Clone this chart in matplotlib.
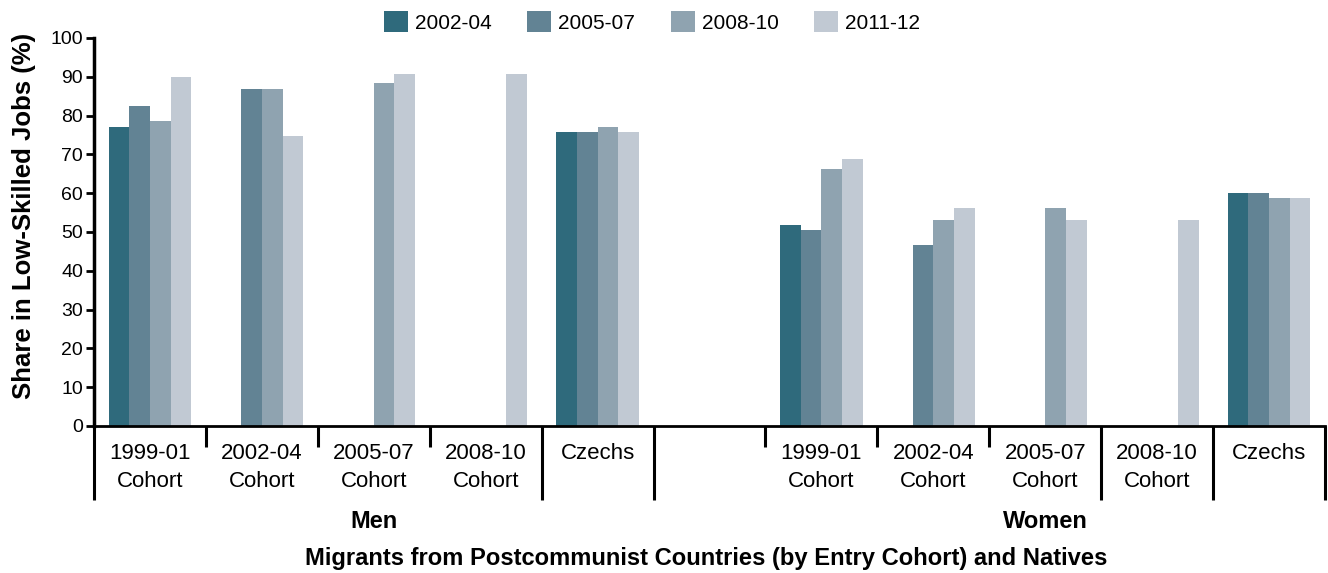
import numpy as np
import matplotlib
matplotlib.use("Agg")
import matplotlib.pyplot as plt
from matplotlib.patches import Patch

plt.rcParams['font.family'] = ['Liberation Sans', 'DejaVu Sans']

# ---- data ----
series = ["2002-04", "2005-07", "2008-10", "2011-12"]
colors = ["#2F6A7C", "#628394", "#8FA3B0", "#C1C9D3"]
categories = ["1999-01\nCohort", "2002-04\nCohort", "2005-07\nCohort", "2008-10\nCohort", "Czechs"]
groups = ["Men", "Women"]
nan = np.nan

men_2002_04 = [77.1, nan, nan, nan, 75.8]
men_2005_07 = [82.5, 86.9, nan, nan, 75.8]
men_2008_10 = [78.7, 86.9, 88.5, nan, 77.1]
men_2011_12 = [90.0, 74.8, 90.8, 90.8, 75.8]

women_2002_04 = [51.8, nan, nan, nan, 60.1]
women_2005_07 = [50.6, 46.7, nan, nan, 60.1]
women_2008_10 = [66.3, 53.1, 56.2, nan, 58.8]
women_2011_12 = [68.9, 56.2, 53.1, 53.1, 58.8]

yticks = [0, 10, 20, 30, 40, 50, 60, 70, 80, 90, 100]
xlabel = "Migrants from Postcommunist Countries (by Entry Cohort) and Natives"
ylabel = "Share in Low-Skilled Jobs (%)"

men_vals = [men_2002_04, men_2005_07, men_2008_10, men_2011_12]
women_vals = [women_2002_04, women_2005_07, women_2008_10, women_2011_12]

# ---- figure ----
W, H = 1328, 573
fig = plt.figure(figsize=(W / 100, H / 100), dpi=100)
ax = fig.add_axes([94 / W, 1 - 426 / H, (1325 - 94) / W, (426 - 38) / H])

n = len(categories)
men_x = np.arange(n) + 0.5                 # categories 0..4
women_x = np.arange(n) + n + 1 + 0.5       # one empty slot between groups
bw = 0.185
offsets = (np.arange(len(series)) - 1.5) * bw

for s, (col, mv, wv) in enumerate(zip(colors, men_vals, women_vals)):
    ax.bar(men_x + offsets[s], mv, width=bw, color=col, linewidth=0)
    ax.bar(women_x + offsets[s], wv, width=bw, color=col, linewidth=0)

total = 2 * n + 1
ax.set_xlim(0, total)
ax.set_ylim(0, 100)

for sp in ["top", "right"]:
    ax.spines[sp].set_visible(False)
ax.spines["left"].set_linewidth(2.5)
ax.spines["bottom"].set_linewidth(2)

ax.set_yticks(yticks)
ax.set_yticklabels([str(t) for t in yticks], fontsize=14)
ax.tick_params(axis="y", direction="out", length=6, width=2, pad=2)

ax.set_xticks(np.concatenate([men_x, women_x]))
ax.set_xticklabels(categories + categories, fontsize=16, linespacing=1.45)
ax.tick_params(axis="x", length=0, pad=12)

# category separators
axh = 426 - 38
tr = ax.get_xaxis_transform()
tall = [0, n - 1, n, total - 2, total - 1, total]
short = [1, 2, 3, n + 1, n + 2, n + 3]
for b in tall:
    ax.plot([b, b], [0, -74 / axh], color="black", lw=2.2, transform=tr,
            clip_on=False, solid_capstyle="butt")
for b in short:
    ax.plot([b, b], [0, -21 / axh], color="black", lw=2.2, transform=tr,
            clip_on=False, solid_capstyle="butt")

# group labels
ax.text((0 + n) / 2.0, -96 / axh, groups[0], transform=tr, ha="center", va="center",
        fontsize=17, fontweight="bold")
ax.text((n + 1 + total) / 2.0, -96 / axh, groups[1], transform=tr, ha="center", va="center",
        fontsize=17, fontweight="bold")
ax.text(0.497, -132 / axh, xlabel, transform=ax.transAxes, ha="center", va="center",
        fontsize=17.1, fontweight="bold")

ax.set_ylabel(ylabel, fontsize=18.5, fontweight="bold")
ax.yaxis.set_label_coords((36 - 94) / (1325 - 94), (426 - 216) / axh)

handles = [Patch(facecolor=c, edgecolor="none", label=s) for s, c in zip(series, colors)]
fig.legend(handles=handles, loc="upper center", bbox_to_anchor=(652 / W, 1 - 3 / H),
           ncol=4, frameon=False, fontsize=15, handlelength=1.15, handleheight=1.15,
           handletextpad=0.35, columnspacing=1.7, borderaxespad=0)

fig.savefig("out.png", dpi=100)
